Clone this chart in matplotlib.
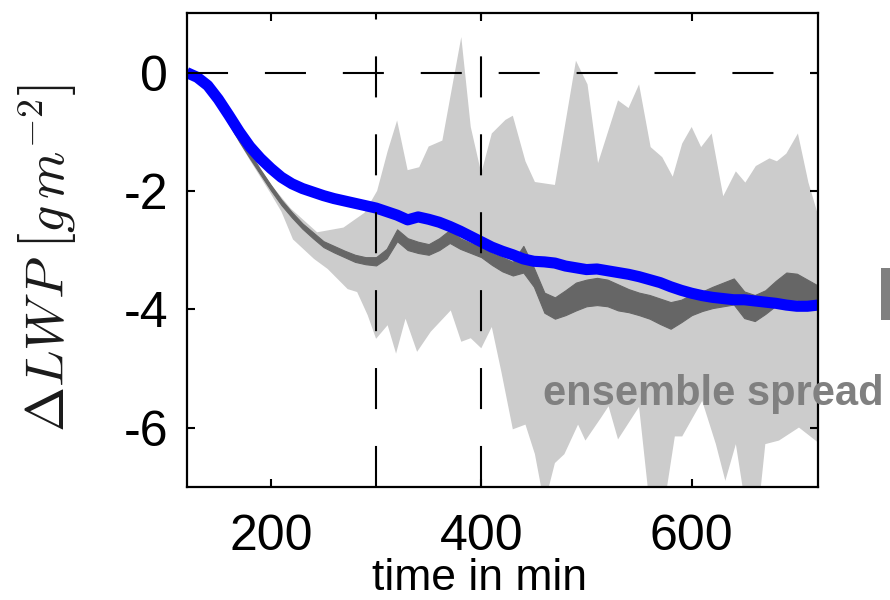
import numpy as np
import matplotlib
matplotlib.use('Agg')
import matplotlib.pyplot as plt
from matplotlib.patches import Rectangle

plt.rcParams['font.family'] = ['Liberation Sans', 'DejaVu Sans']
plt.rcParams['mathtext.fontset'] = 'cm'
plt.rcParams['axes.unicode_minus'] = False

# time axis (min) for the mean curves
t = np.arange(120, 721, 10)

# blue curve
lwp_blue = [0, -0.08, -0.22, -0.45, -0.72, -1.0, -1.25, -1.45, -1.62, -1.77,
            -1.88, -1.96, -2.02, -2.08, -2.13, -2.17, -2.21, -2.25, -2.29, -2.35,
            -2.41, -2.49, -2.44, -2.48, -2.53, -2.6, -2.68, -2.77, -2.86, -2.95,
            -3.02, -3.08, -3.15, -3.19, -3.2, -3.22, -3.27, -3.3, -3.33, -3.32,
            -3.35, -3.38, -3.41, -3.45, -3.5, -3.55, -3.62, -3.68, -3.73, -3.77,
            -3.8, -3.82, -3.84, -3.84, -3.86, -3.88, -3.9, -3.93, -3.95, -3.95,
            -3.93]

# dark grey band (upper / lower)
dark_hi = [0, -0.06, -0.21, -0.46, -0.78, -1.08, -1.36, -1.64, -1.9, -2.15,
           -2.36, -2.55, -2.7, -2.85, -2.93, -3.01, -3.08, -3.12, -3.12, -2.98,
           -2.65, -2.8, -2.86, -2.9, -2.8, -2.66, -2.8, -2.88, -2.94, -3.05,
           -3.12, -3.2, -2.93, -3.3, -3.72, -3.8, -3.68, -3.55, -3.5, -3.47,
           -3.5, -3.58, -3.66, -3.72, -3.76, -3.82, -3.88, -3.84, -3.75, -3.7,
           -3.62, -3.55, -3.48, -3.7, -3.76, -3.68, -3.52, -3.38, -3.4, -3.5,
           -3.6]
dark_lo = [0, -0.09, -0.26, -0.52, -0.86, -1.17, -1.45, -1.72, -1.99, -2.24,
           -2.45, -2.64, -2.8, -2.95, -3.04, -3.12, -3.2, -3.24, -3.26, -3.14,
           -2.85, -3.0, -3.05, -3.08, -3.0, -2.88, -2.98, -3.05, -3.12, -3.25,
           -3.36, -3.43, -3.38, -3.62, -4.06, -4.16, -4.1, -4.02, -3.95, -3.93,
           -3.95, -4.02, -4.05, -4.1, -4.16, -4.25, -4.33, -4.22, -4.1, -4.03,
           -3.98, -3.95, -3.92, -4.15, -4.2, -4.08, -3.94, -3.84, -3.84, -3.87,
           -3.92]

# light grey ensemble spread, upper edge
spread_hi_t = [120, 140, 160, 180, 199, 219, 244, 269, 289, 301, 311, 320, 330,
               341, 350, 363, 381, 390, 400, 410, 423, 430, 442, 451, 470, 490,
               501, 511, 530, 540, 550, 561, 572, 582, 591, 600, 609, 619, 630,
               642, 651, 661, 674, 681, 690, 701, 711, 720]
spread_hi = [0, -0.18, -0.75, -1.32, -1.87, -2.3, -2.7, -2.62, -2.37, -2.0,
             -1.33, -0.81, -1.65, -1.6, -1.25, -1.15, 0.6, -0.92, -1.7, -1.03,
             -0.8, -0.73, -1.5, -1.85, -1.9, 0.2, -0.2, -1.53, -0.47, -0.6,
             -0.2, -1.26, -1.43, -1.76, -1.2, -0.92, -1.26, -1.03, -2.09, -1.67,
             -1.86, -1.58, -1.45, -1.5, -1.37, -1.03, -1.86, -2.4]

# light grey ensemble spread, lower edge
spread_lo_t = [120, 140, 160, 180, 200, 210, 221, 241, 254, 273, 282, 292, 300,
               311, 319, 328, 339, 352, 371, 381, 390, 400, 410, 419, 430, 442,
               451, 460, 470, 479, 492, 499, 514, 521, 530, 550, 560, 574, 584,
               591, 610, 623, 632, 642, 651, 664, 670, 683, 702, 720]
spread_lo = [0, -0.25, -0.88, -1.48, -2.05, -2.35, -2.82, -3.15, -3.32, -3.66,
             -3.71, -4.1, -4.5, -4.27, -4.75, -4.16, -4.72, -4.38, -4.02, -4.55,
             -4.49, -4.66, -4.3, -5.05, -6.03, -5.95, -6.45, -7.3, -6.6, -6.45,
             -5.95, -6.22, -5.83, -5.64, -6.2, -5.65, -7.3, -7.3, -6.15, -6.15,
             -5.55, -6.28, -6.9, -6.28, -7.3, -7.3, -6.28, -6.22, -6.0, -6.25]

vlines = [300, 400]
xticks = [200, 400, 600]
yticks = [0, -2, -4, -6]

fig = plt.figure(figsize=(8.9, 6), dpi=100)
ax = fig.add_axes([0.2098, 0.1888, 0.7092, 0.7889])

poly_t = np.concatenate([spread_hi_t, spread_lo_t[::-1]])
poly_v = np.concatenate([spread_hi, spread_lo[::-1]])
ax.fill(poly_t, poly_v, color='#cccccc', lw=0, zorder=1)
ax.fill_between(t, dark_lo, dark_hi, color='#666666', lw=0.8,
                edgecolor='#666666', zorder=2)
ax.plot(t, lwp_blue, color='#0000ff', lw=8, solid_joinstyle='round',
        solid_capstyle='butt', zorder=3)

dash = (19.7, 17.7)
ax.plot([120, 720], [0, 0], color='k', lw=1.5, dashes=dash, zorder=4)
for xv in vlines:
    ax.plot([xv, xv], [-7, 1], color='k', lw=1.5, dashes=dash, zorder=4)

ax.set_xlim(120, 720)
ax.set_ylim(-7, 1)
ax.set_xticks(xticks)
ax.set_yticks(yticks)
ax.tick_params(direction='in', top=True, right=True, length=6, width=1.5,
               labelsize=36)
ax.tick_params(axis='x', pad=20)
ax.tick_params(axis='y', pad=13.5)
for s in ax.spines.values():
    s.set_linewidth(1.6)
    s.set_zorder(5)

fig.text(47 / 890, 1 - 258 / 600, r'$\Delta LWP\ \left[g\,m^{-2}\right]$',
         rotation=90, ha='center', va='center', fontsize=39, color='#1a1a1a')
fig.text(479 / 890, 0.002, 'time in min', ha='center', va='bottom',
         fontsize=32)
fig.text(543 / 890, 1 - 405 / 600, 'ensemble spread', ha='left',
         va='baseline', fontsize=30, fontweight='bold', color='#808080')
fig.patches.append(Rectangle((881 / 890, 1 - 320 / 600), 0.02, 52 / 600,
                             transform=fig.transFigure, color='#808080',
                             lw=0))

fig.savefig('out.png', dpi=100)
